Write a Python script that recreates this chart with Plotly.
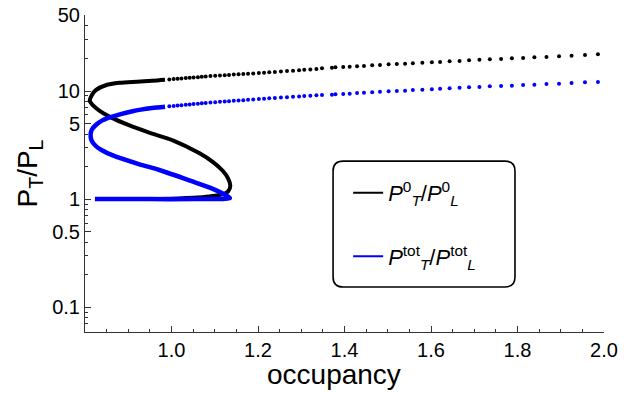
import plotly.graph_objects as go

# ---------------- data ----------------
# dense (continuous-looking) part of each curve, ordered along the curve
occ_black_dense = [0.823, 0.90, 0.972, 1.05, 1.088, 1.119, 1.131, 1.136, 1.131, 1.119,
                   1.096, 1.065, 1.003, 0.95, 0.90, 0.86, 0.833, 0.818, 0.811, 0.816,
                   0.825, 0.848, 0.88, 0.92, 0.955, 0.985]
ratio_black_dense = [1.0, 1.0, 1.005, 1.03, 1.06, 1.11, 1.18, 1.33, 1.55, 1.82,
                     2.2, 2.65, 3.5, 4.1, 4.85, 5.7, 6.6, 7.4, 8.1, 9.2,
                     10.2, 11.3, 11.9, 12.2, 12.45, 12.72]

occ_blue_dense = [0.823, 0.95, 1.05, 1.12, 1.135, 1.127, 1.09, 1.05, 0.972, 0.926,
                  0.863, 0.838, 0.825, 0.815, 0.813, 0.816, 0.825, 0.84, 0.863, 0.91,
                  0.955, 0.985]
ratio_blue_dense = [1.0, 1.0, 1.0, 1.005, 1.02, 1.08, 1.27, 1.45, 1.86, 2.1,
                    2.55, 2.85, 3.1, 3.5, 4.0, 4.4, 4.85, 5.35, 5.8, 6.5,
                    6.95, 7.15]

# sparse (dotted) upper branch, shared occupancy values
occ_sparse = [0.995, 1.005, 1.014, 1.023, 1.033, 1.042, 1.051, 1.061, 1.070, 1.079,
              1.090, 1.101, 1.112, 1.123, 1.133, 1.144, 1.155, 1.166, 1.177, 1.189,
              1.202, 1.214, 1.226, 1.239, 1.253, 1.267, 1.281, 1.295, 1.307, 1.321,
              1.335, 1.348, 1.371, 1.379, 1.397, 1.412, 1.429, 1.445, 1.464, 1.482,
              1.502, 1.521, 1.540, 1.558, 1.580, 1.602, 1.621, 1.643, 1.666, 1.688,
              1.712, 1.736, 1.762, 1.787, 1.813, 1.839, 1.867, 1.896, 1.925, 1.956,
              1.986]
ratio_black_sparse = [12.81, 12.90, 12.98, 13.08, 13.16, 13.25, 13.35, 13.43, 13.53, 13.61,
                      13.73, 13.85, 13.92, 14.00, 14.09, 14.18, 14.27, 14.35, 14.43, 14.54,
                      14.66, 14.77, 14.89, 15.02, 15.15, 15.29, 15.42, 15.55, 15.70, 15.82,
                      15.96, 16.22, 16.44, 16.56, 16.68, 16.80, 16.92, 17.04, 17.29, 17.41,
                      17.66, 17.78, 17.91, 18.04, 18.30, 18.43, 18.56, 18.83, 18.96, 19.23,
                      19.50, 19.64, 19.78, 20.07, 20.21, 20.50, 20.64, 20.94, 21.24, 21.54,
                      21.85]
ratio_blue_sparse = [7.21, 7.27, 7.33, 7.40, 7.46, 7.51, 7.57, 7.63, 7.69, 7.75,
                     7.82, 7.89, 7.95, 8.01, 8.06, 8.12, 8.17, 8.23, 8.29, 8.35,
                     8.42, 8.49, 8.55, 8.63, 8.71, 8.77, 8.84, 8.91, 8.99, 9.05,
                     9.12, 9.18, 9.25, 9.31, 9.38, 9.45, 9.58, 9.65, 9.72, 9.86,
                     9.93, 10.0, 10.07, 10.21, 10.29, 10.36, 10.51, 10.58, 10.74, 10.81,
                     10.89, 11.05, 11.13, 11.21, 11.36, 11.44, 11.61, 11.69, 11.86, 12.03,
                     12.12]

x_major = [1.0, 1.2, 1.4, 1.6, 1.8, 2.0]
x_major_labels = ["1.0", "1.2", "1.4", "1.6", "1.8", "2.0"]
x_minor = [0.85, 0.9, 0.95, 1.05, 1.1, 1.15, 1.25, 1.3, 1.35, 1.45, 1.5, 1.55,
           1.65, 1.7, 1.75, 1.85, 1.9, 1.95]
y_major = [0.1, 0.5, 1, 5, 10, 50]
y_major_labels = ["0.1", "0.5", "1", "5", "10", "50"]
y_minor = [0.06, 0.07, 0.08, 0.09, 0.2, 0.3, 0.4, 0.6, 0.7, 0.8, 0.9,
           2, 3, 4, 6, 7, 8, 9, 20, 30, 40]

x_title = "occupancy"
y_title = "P<sub>T</sub>/P<sub>L</sub>"
legend_black = "<i>P</i><sup>0</sup><sub><i>T</i></sub>/<i>P</i><sup>0</sup><sub><i>L</i></sub>"
legend_blue = "<i>P</i><sup>tot</sup><sub><i>T</i></sub>/<i>P</i><sup>tot</sup><sub><i>L</i></sub>"

BLACK = "#000000"
BLUE = "#0000FF"
FONT = "Liberation Sans, Arial, sans-serif"

fig = go.Figure()
fig.add_trace(go.Scatter(x=occ_black_dense, y=ratio_black_dense, mode="lines",
                         line=dict(color=BLACK, width=4, shape="spline", smoothing=0.8),
                         showlegend=False, hoverinfo="skip"))
fig.add_trace(go.Scatter(x=occ_sparse, y=ratio_black_sparse, mode="markers",
                         marker=dict(color=BLACK, size=4), showlegend=False))
fig.add_trace(go.Scatter(x=occ_blue_dense, y=ratio_blue_dense, mode="lines",
                         line=dict(color=BLUE, width=4.5, shape="spline", smoothing=0.8),
                         showlegend=False, hoverinfo="skip"))
fig.add_trace(go.Scatter(x=occ_sparse, y=ratio_blue_sparse, mode="markers",
                         marker=dict(color=BLUE, size=4), showlegend=False))
# legend entries
fig.add_trace(go.Scatter(x=[None], y=[None], mode="lines", name=legend_black,
                         line=dict(color=BLACK, width=2), legendgroup="a"))
fig.add_trace(go.Scatter(x=[None], y=[None], mode="lines", name=legend_blue,
                         line=dict(color=BLUE, width=2), legendgroup="b"))

# rounded legend box (paper coords)
x0, x1 = 0.478, 0.8285
y0, y1 = 0.142, 0.539
rx, ry = 10 / 519, 10 / 317
path = (f"M {x0+rx},{y0} L {x1-rx},{y0} Q {x1},{y0} {x1},{y0+ry} "
        f"L {x1},{y1-ry} Q {x1},{y1} {x1-rx},{y1} L {x0+rx},{y1} "
        f"Q {x0},{y1} {x0},{y1-ry} L {x0},{y0+ry} Q {x0},{y0} {x0+rx},{y0} Z")
fig.add_shape(type="path", path=path, xref="paper", yref="paper",
              line=dict(color=BLACK, width=1.6))

# x-axis title (placed slightly left of centre, as in the reference)
fig.add_annotation(text=x_title, xref="paper", yref="paper", x=0.479, y=-0.1325,
                   xanchor="center", yanchor="middle", showarrow=False,
                   font=dict(size=28, family=FONT, color=BLACK))

axis_color = "#333333"
# page body has an 8px offset, so the figure is drawn 8px smaller
fig.update_layout(
    width=629, height=385,
    margin=dict(l=77, r=33, t=7, b=61),
    paper_bgcolor="white", plot_bgcolor="white",
    font=dict(family=FONT, color="#000000"),
    legend=dict(x=0.507, y=0.505, xanchor="left", yanchor="top",
                bgcolor="rgba(0,0,0,0)", borderwidth=0,
                font=dict(size=22, family=FONT), tracegroupgap=32,
                itemwidth=30),
    xaxis=dict(range=[0.8, 2.0], showgrid=False, zeroline=False, automargin=False,
               showline=True, linecolor=axis_color, linewidth=1,
               tickmode="array", tickvals=x_major, ticktext=x_major_labels,
               ticks="inside", ticklen=6, tickwidth=1, tickcolor=axis_color,
               tickfont=dict(size=20), ticklabeloverflow="allow",
               minor=dict(tickmode="array", tickvals=x_minor, ticks="inside",
                          ticklen=3, tickwidth=1, tickcolor=axis_color)),
    yaxis=dict(type="log", range=[-1.229, 1.703], showgrid=False, zeroline=False,
               automargin=False,
               showline=True, linecolor=axis_color, linewidth=1,
               tickmode="array", tickvals=y_major, ticktext=y_major_labels,
               ticks="inside", ticklen=6, tickwidth=1, tickcolor=axis_color,
               tickfont=dict(size=20), ticklabeloverflow="allow",
               minor=dict(tickmode="array", tickvals=y_minor, ticks="inside",
                          ticklen=3, tickwidth=1, tickcolor=axis_color),
               title=dict(text=y_title, font=dict(size=28), standoff=6)),
)

fig.write_html("out.html")
